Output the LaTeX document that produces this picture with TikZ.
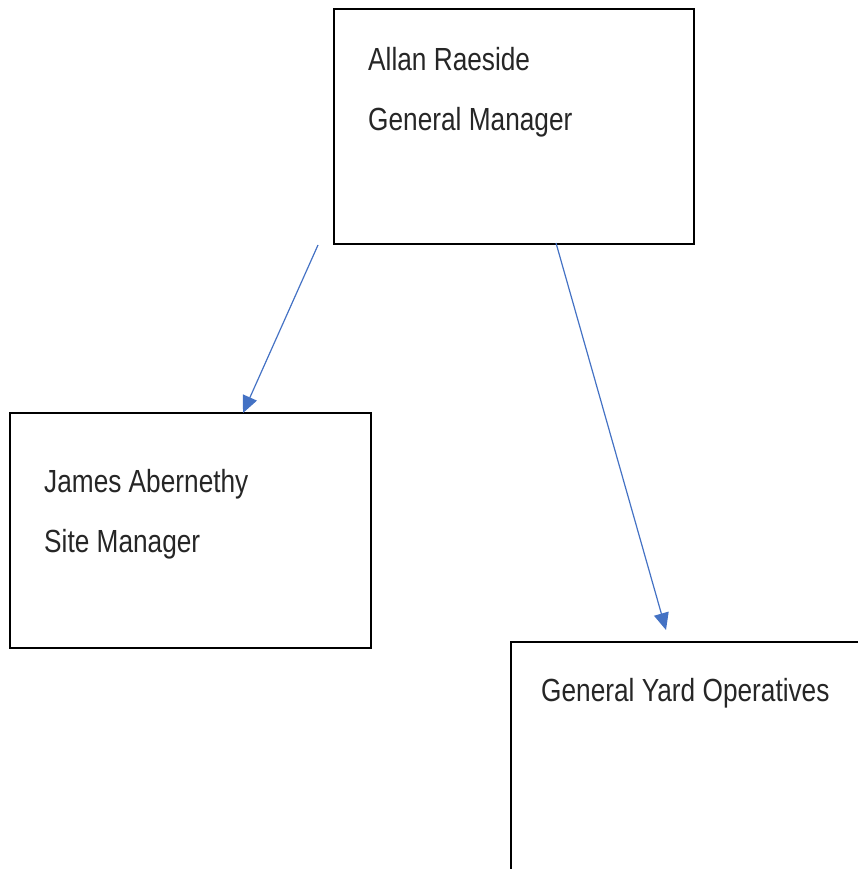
\documentclass[tikz,border=0pt]{standalone}
\usepackage{fontspec}
\setmainfont{Liberation Sans}[FakeStretch=0.82]
\usetikzlibrary{arrows.meta}
\definecolor{arrowblue}{HTML}{4472C4}
\tikzset{
  box/.style={draw=black, line width=2.2pt, rectangle, anchor=north west, inner sep=0pt},
  label/.style={anchor=base west, inner sep=0pt, font=\fontsize{32}{38}\selectfont, text=black!85},
  link/.style={draw=arrowblue, line width=1.2pt, -{Triangle[length=17pt,width=15pt]}}
}
\begin{document}
\begin{tikzpicture}[x=1pt,y=-1pt]
\useasboundingbox (0,0) rectangle (858,869);
\node[box, minimum width=360pt, minimum height=235pt] (gm) at (333,8) {};
\node[box, minimum width=361pt, minimum height=235pt] (sm) at (9,412) {};
\node[box, minimum width=400pt, minimum height=300pt] (yo) at (510,641) {};
\node[label] (t1) at (368,71) {Allan Raeside};
\node[label] (t2) at (368,131) {General Manager};
\node[label] (t3) at (44,492) {James Abernethy};
\node[label] (t4) at (44,552) {Site Manager};
\node[label] (t5) at (541,701) {General Yard Operatives};
\coordinate (s1) at (318,245);
\coordinate (e1) at (243,413);
\coordinate (s2) at (556,243);
\coordinate (e2) at (666,630);
\draw[link] (s1) -- (e1);
\draw[link] (s2) -- (e2);
\end{tikzpicture}
\end{document}
